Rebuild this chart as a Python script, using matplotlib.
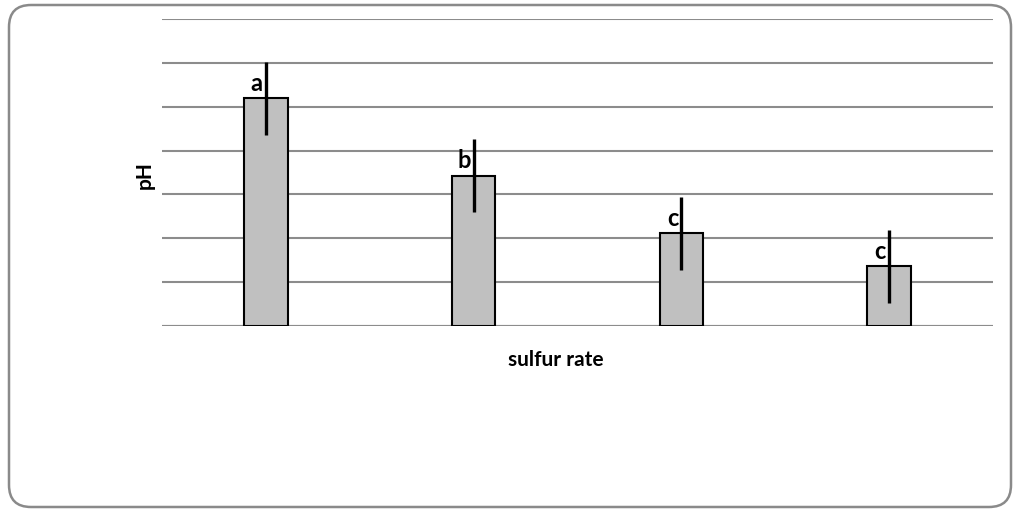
import matplotlib
matplotlib.use("Agg")
import matplotlib.pyplot as plt
from matplotlib.patches import FancyBboxPatch
from matplotlib.transforms import IdentityTransform
import numpy as np

categories = ["S0", "S1", "S2", "S3"]
ph_values = [5.19, 3.43, 2.11, 1.36]
ph_errors = [0.84, 0.83, 0.83, 0.83]
letters = ["a", "b", "c", "c"]
grid_ticks = [0, 1, 2, 3, 4, 5, 6, 7]

plt.rcParams['font.family'] = ['Lato', 'DejaVu Sans']

fig = plt.figure(figsize=(10.13, 5.10), dpi=100)
ax = fig.add_axes([162/1013, 1-327/510, 831/1013, 307/510])

x = np.arange(len(categories))
ax.bar(x, ph_values, width=0.21, color="#C0C0C0", edgecolor="#000000",
       linewidth=1.5, zorder=3)
ax.errorbar(x, ph_values, yerr=ph_errors, fmt="none", ecolor="black",
            elinewidth=2.4, capsize=0, zorder=4)
for xi, v, lab in zip(x, ph_values, letters):
    ax.text(xi - 0.015, v + 0.1, lab, ha="right", va="bottom",
            fontsize=17, fontweight="bold", zorder=5)

ax.set_xlim(-0.5, len(categories) - 0.5)
ax.set_ylim(0, 7)
ax.set_yticks(grid_ticks)
ax.yaxis.grid(True, color="#8C8C8C", linewidth=1.5, zorder=0)
ax.set_axisbelow(True)
ax.tick_params(left=False, bottom=False, labelleft=False, labelbottom=False)
for s in ["left", "right", "top", "bottom"]:
    ax.spines[s].set_visible(False)
ax.axhline(0, color="#8C8C8C", linewidth=1.5, zorder=2)

ax.set_ylabel("pH", fontsize=15, fontweight="bold", va="center")
ax.yaxis.set_label_coords(-0.021, 0.495)
ax.set_xlabel("sulfur rate", fontsize=15, fontweight="bold", va="center")
ax.xaxis.set_label_coords(0.474, -0.107)

frame = FancyBboxPatch((9, 2), 1002, 502, boxstyle="round,pad=0,rounding_size=22",
                       transform=IdentityTransform(), facecolor="none",
                       edgecolor="#8A8A8A", linewidth=1.8)
fig.patches.append(frame)

fig.savefig("out.png", dpi=100)
